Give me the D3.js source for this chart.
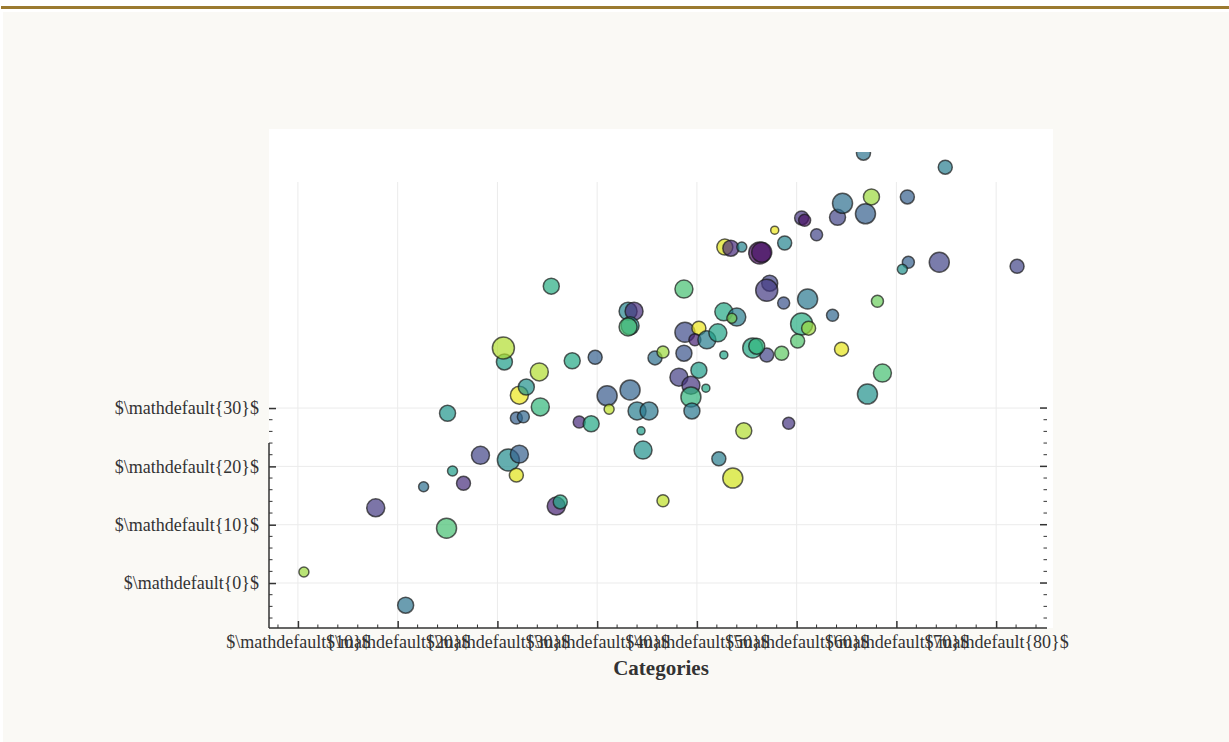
<!DOCTYPE html>
<html>
<head>
<meta charset="utf-8">
<script src="https://cdn.jsdelivr.net/npm/d3@7"></script>
<style>
  html, body { margin: 0; padding: 0; background: #ffffff; }
  svg { display: block; }
</style>
</head>
<body>
<svg id="chart" width="1229" height="742"></svg>
<script>
// ---- data ----
const xValues = [10.6,20.8,17.8,24.9,22.6,25.5,26.6,25.0,28.3,31.1,32.2,31.9,31.9,32.6,32.2,32.9,34.3,34.2,30.7,30.6,
  35.4,37.5,39.8,38.2,39.4,35.9,36.3,41.0,43.3,41.2,44.0,45.2,44.4,44.6,46.6,43.1,43.7,43.3,43.1,48.7,
  48.8,50.2,49.8,51.0,52.1,45.8,46.6,48.7,48.2,49.4,49.4,49.5,50.2,50.9,52.7,54.0,53.5,52.7,52.2,54.7,
  53.6,52.8,53.4,54.5,56.3,56.5,57.8,58.8,57.3,57.0,58.7,61.1,63.6,60.5,61.2,60.1,58.5,57.0,55.6,56.0,
  64.5,59.2,68.1,68.6,67.1,60.5,60.8,62.0,64.1,64.6,66.9,67.5,71.1,66.7,74.9,71.2,70.6,74.3,82.1];
const yValues = [1.9,-3.8,12.9,9.4,16.5,19.2,17.1,29.1,21.9,21.1,22.1,18.5,28.3,28.5,32.2,33.6,30.2,36.2,37.9,40.3,
  50.9,38.1,38.7,27.6,27.3,13.2,13.9,32.1,33.1,29.8,29.5,29.5,26.1,22.8,14.1,46.6,46.6,44.1,43.9,50.4,
  43.0,43.7,41.7,41.7,42.9,38.6,39.6,39.4,35.3,33.9,31.9,29.5,36.5,33.4,46.5,45.6,45.4,39.1,21.3,26.1,
  18.0,57.6,57.4,57.6,56.6,56.7,60.5,58.3,51.4,50.2,48.0,48.7,45.9,44.4,43.7,41.5,39.4,39.1,40.3,40.6,
  40.1,27.4,48.3,36.0,32.4,62.6,62.2,59.7,62.7,65.1,63.3,66.2,66.2,73.7,71.3,55.0,53.8,55.0,54.3];
const sizes = [56,144,182,225,56,56,110,144,182,272,182,110,81,81,182,144,182,182,144,272,
  144,144,110,81,144,182,110,225,225,56,182,182,36,182,81,182,182,182,182,182,
  225,110,81,182,182,110,81,144,182,182,225,144,144,36,182,182,56,36,110,144,
  225,144,144,56,272,225,36,110,144,272,81,225,81,272,110,110,110,110,225,144,
  110,81,81,182,225,110,81,81,144,225,225,144,110,110,110,81,56,225,110];
const colorValues = [0.85,0.38,0.17,0.70,0.36,0.55,0.13,0.52,0.20,0.48,0.30,0.95,0.30,0.33,0.97,0.50,0.66,0.88,0.55,0.88,
  0.62,0.60,0.30,0.12,0.60,0.10,0.60,0.28,0.32,0.90,0.42,0.40,0.55,0.50,0.90,0.45,0.13,0.50,0.70,0.70,
  0.23,0.97,0.10,0.42,0.58,0.36,0.85,0.26,0.18,0.15,0.65,0.40,0.55,0.60,0.60,0.42,0.80,0.58,0.42,0.88,
  0.93,0.95,0.12,0.45,0.02,0.05,0.97,0.45,0.20,0.17,0.25,0.40,0.33,0.62,0.85,0.72,0.75,0.20,0.60,0.65,
  0.96,0.15,0.77,0.70,0.50,0.15,0.05,0.20,0.20,0.36,0.30,0.85,0.30,0.38,0.42,0.30,0.50,0.20,0.20];
const xTickValues = [10,20,30,40,50,60,70,80];
const yTickValues = [0,10,20,30];
const xTickLabels = xTickValues.map(v => "$\\mathdefault{" + v + "}$");
const yTickLabels = yTickValues.map(v => "$\\mathdefault{" + v + "}$");
const xLabel = "Categories";

const points = xValues.map((x, i) => ({x, y: yValues[i], s: sizes[i], c: colorValues[i]}));

// ---- layout ----
const svg = d3.select("#chart");
const W = 1229, H = 742;
const plot = {left: 269, right: 1047, top: 152, bottom: 628};

// page frame
svg.append("rect").attr("x", 0).attr("y", 0).attr("width", W).attr("height", H).attr("fill", "#ffffff");
svg.append("rect").attr("x", 3).attr("y", 12).attr("width", W - 3).attr("height", H - 12).attr("fill", "#faf9f5");
svg.append("rect").attr("x", 1).attr("y", 6).attr("width", W - 1).attr("height", 3).attr("fill", "#9b7a30");

// white axes patch
svg.append("rect").attr("x", 269).attr("y", 129).attr("width", 1053 - 269).attr("height", plot.bottom - 129)
  .attr("fill", "#ffffff");

const x = d3.scaleLinear().domain([7.1, 85.1]).range([plot.left, plot.right]);
const y = d3.scaleLinear().domain([-7.71, 73.9]).range([plot.bottom, plot.top]);
const r = d3.scaleSqrt().domain([0, 300]).range([0, Math.sqrt(300) / 1.5]);

const serif = "'Liberation Serif', 'Times New Roman', serif";
const gridColor = "#ebebeb";

// grid
svg.append("g").selectAll("line.gx").data(xTickValues).join("line")
  .attr("x1", d => x(d)).attr("x2", d => x(d))
  .attr("y1", plot.top + 30).attr("y2", plot.bottom)
  .attr("stroke", gridColor).attr("stroke-width", 1);
svg.append("g").selectAll("line.gy").data(yTickValues).join("line")
  .attr("x1", plot.left).attr("x2", plot.right)
  .attr("y1", d => y(d)).attr("y2", d => y(d))
  .attr("stroke", gridColor).attr("stroke-width", 1);

// clip
svg.append("clipPath").attr("id", "clip").append("rect")
  .attr("x", plot.left).attr("y", plot.top).attr("width", plot.right - plot.left).attr("height", plot.bottom - plot.top);

// bubbles
svg.append("g").attr("clip-path", "url(#clip)")
  .selectAll("circle").data(points).join("circle")
  .attr("cx", d => x(d.x)).attr("cy", d => y(d.y)).attr("r", d => r(d.s))
  .attr("fill", d => d3.interpolateViridis(d.c)).attr("fill-opacity", 0.7)
  .attr("stroke", "#1a1a1a").attr("stroke-opacity", 0.7).attr("stroke-width", 1.5);

const axisColor = "#333333";

// bottom axis (ticks inward)
const xAxis = d3.axisBottom(x).tickValues(xTickValues).tickSize(-7).tickPadding(16)
  .tickFormat((d, i) => xTickLabels[i]);
const gx = svg.append("g").attr("transform", `translate(0,${plot.bottom})`).call(xAxis);
gx.select(".domain").attr("d", `M${plot.left},0H${plot.right}`).attr("stroke", axisColor).attr("stroke-width", 1.5);
gx.selectAll(".tick line").attr("stroke", axisColor).attr("stroke-width", 1.5);
gx.selectAll(".tick text").attr("font-family", serif).attr("font-size", 18).attr("fill", "#333").attr("dy", "0.35em").attr("y", 14);
const xMinor = d3.range(8, 86, 2).filter(v => !xTickValues.includes(v) && x(v) <= plot.right);
svg.append("g").selectAll("line").data(xMinor).join("line")
  .attr("x1", d => x(d)).attr("x2", d => x(d)).attr("y1", plot.bottom).attr("y2", plot.bottom - 3.5)
  .attr("stroke", axisColor).attr("stroke-width", 1);

// left axis
const yAxis = d3.axisLeft(y).tickValues(yTickValues).tickSize(-7).tickPadding(10)
  .tickFormat((d, i) => yTickLabels[i]);
const gy = svg.append("g").attr("transform", `translate(${plot.left},0)`).call(yAxis);
gy.select(".domain").attr("d", `M0,${y(24)}V${plot.bottom}`).attr("stroke", axisColor).attr("stroke-width", 1.5);
gy.selectAll(".tick line").attr("stroke", axisColor).attr("stroke-width", 1.5);
gy.selectAll(".tick text").attr("font-family", serif).attr("font-size", 18).attr("fill", "#333").attr("x", -10);
const yMinor = d3.range(-6, 30, 2).filter(v => !yTickValues.includes(v));
svg.append("g").selectAll("line").data(yMinor).join("line")
  .attr("x1", plot.left).attr("x2", plot.left + 3.5).attr("y1", d => y(d)).attr("y2", d => y(d))
  .attr("stroke", axisColor).attr("stroke-width", 1);

// right ticks
svg.append("g").selectAll("line").data(yTickValues).join("line")
  .attr("x1", plot.right).attr("x2", plot.right - 7).attr("y1", d => y(d)).attr("y2", d => y(d))
  .attr("stroke", axisColor).attr("stroke-width", 1.5);
svg.append("g").selectAll("line").data(yMinor).join("line")
  .attr("x1", plot.right).attr("x2", plot.right - 3.5).attr("y1", d => y(d)).attr("y2", d => y(d))
  .attr("stroke", axisColor).attr("stroke-width", 1);

// x label
svg.append("text").attr("x", (plot.left + plot.right) / 2 + 3).attr("y", 675)
  .attr("text-anchor", "middle").attr("font-family", serif).attr("font-size", 21).attr("font-weight", "bold")
  .attr("fill", "#333").text(xLabel);
</script>
</body>
</html>
